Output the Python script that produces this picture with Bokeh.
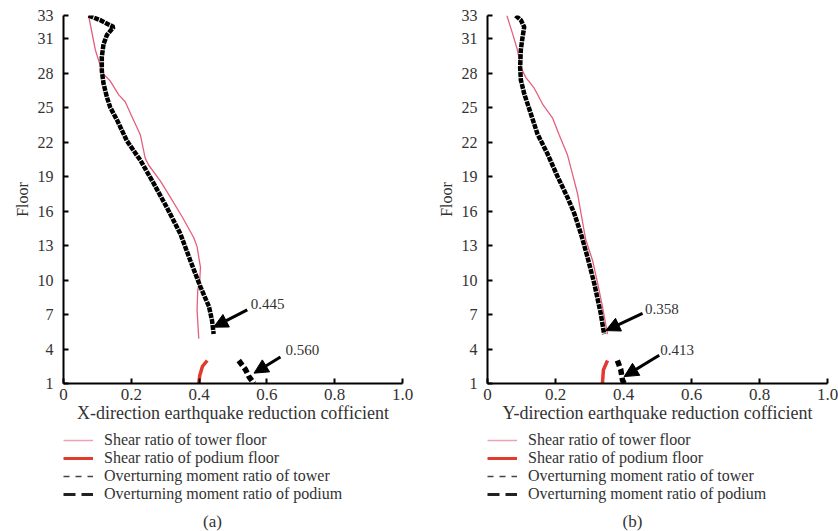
from bokeh.plotting import figure
from bokeh.models import (FixedTicker, Legend, LegendItem, Label, Arrow, NormalHead)
from bokeh.layouts import row, column
from bokeh.embed import file_html
from bokeh.resources import INLINE

FONT = "Liberation Serif"

# ---------------- data ----------------
floor_ticks = [1, 4, 7, 10, 13, 16, 19, 22, 25, 28, 31, 33]
x_ticks = [0, 0.2, 0.4, 0.6, 0.8, 1.0]
x_tick_labels = ["0", "0.2", "0.4", "0.6", "0.8", "1.0"]

legend_labels = ["Shear ratio of tower floor",
                 "Shear ratio of podium floor",
                 "Overturning moment ratio of tower",
                 "Overturning moment ratio of podium"]

# Panel (a): X direction
a_tower_shear_x = [0.074, 0.094, 0.108, 0.118, 0.138, 0.163, 0.182, 0.202, 0.227, 0.241,
                   0.251, 0.286, 0.315, 0.350, 0.384, 0.394, 0.404, 0.402, 0.396, 0.394, 0.399]
a_tower_shear_floor = [33.0, 30.0, 28.7, 27.9, 27.3, 26.1, 25.5, 24.2, 22.6, 20.6,
                       20.0, 18.6, 17.2, 15.5, 13.7, 12.9, 11.1, 10.0, 9.1, 7.4, 4.9]
a_podium_shear_x = [0.424, 0.410, 0.402, 0.399]
a_podium_shear_floor = [3.0, 2.5, 1.7, 1.0]
a_tower_moment_x = [0.074, 0.108, 0.148, 0.128, 0.118, 0.113, 0.113, 0.118, 0.128, 0.138,
                    0.158, 0.187, 0.227, 0.266, 0.305, 0.345, 0.374, 0.404, 0.429, 0.438, 0.443]
a_tower_moment_floor = [33.0, 32.6, 32.0, 31.3, 30.5, 29.4, 28.2, 27.1, 25.9, 25.0,
                        23.9, 22.1, 20.4, 18.4, 16.3, 14.0, 11.7, 9.4, 7.7, 6.5, 5.3]
a_podium_moment_x = [0.517, 0.537, 0.547, 0.562]
a_podium_moment_floor = [3.0, 2.2, 1.6, 1.0]
a_axis_label = "X-direction earthquake reduction cofficient"
a_notes = ["0.445", "0.560"]
a_note_tip_x = [0.443, 0.562]
a_note_tip_floor = [5.9, 1.9]
a_note_tail_x = [0.542, 0.640]
a_note_tail_floor = [7.4, 3.3]
a_note_text_x = [0.552, 0.655]
a_note_text_floor = [7.95, 3.9]

# Panel (b): Y direction
b_tower_shear_x = [0.057, 0.074, 0.088, 0.098, 0.113, 0.137, 0.162, 0.191, 0.211, 0.235,
                   0.250, 0.265, 0.275, 0.289, 0.309, 0.324, 0.338, 0.353]
b_tower_shear_floor = [33.0, 31.4, 30.0, 28.5, 27.6, 26.7, 25.3, 24.1, 22.6, 20.9,
                       19.2, 17.5, 15.8, 13.5, 11.7, 9.7, 7.7, 5.3]
b_podium_shear_x = [0.353, 0.341, 0.338]
b_podium_shear_floor = [3.0, 2.2, 1.0]
b_tower_moment_x = [0.083, 0.098, 0.108, 0.103, 0.098, 0.096, 0.098, 0.108, 0.127, 0.147,
                    0.176, 0.206, 0.235, 0.255, 0.275, 0.294, 0.314, 0.333, 0.343]
b_tower_moment_floor = [33.0, 32.6, 32.0, 31.1, 30.0, 28.5, 27.4, 26.2, 24.5, 22.7,
                        21.0, 19.0, 17.2, 15.8, 14.0, 12.0, 9.7, 7.1, 5.3]
b_podium_moment_x = [0.382, 0.392, 0.397, 0.402]
b_podium_moment_floor = [3.0, 2.2, 1.3, 1.0]
b_axis_label = "Y-direction earthquake reduction cofficient"
b_notes = ["0.358", "0.413"]
b_note_tip_x = [0.348, 0.402]
b_note_tip_floor = [5.6, 1.6]
b_note_tail_x = [0.456, 0.505]
b_note_tail_floor = [7.1, 3.46]
b_note_text_x = [0.463, 0.508]
b_note_text_floor = [7.5, 3.9]

PINK = "#e4607c"
PINK_LEG = "#eaa3b3"
RED = "#e23a2c"
BLACK = "#000000"
TXT = "#333333"

W = 419
H_PLOT = 429
H_LEG = 102
ROW_H = 22
# distance (px) of each legend row's bottom edge above the bottom of the page
ROW_BOTTOMS = [80, 62, 44, 26]


def make_panel(axis_label, ts_x, ts_f, ps_x, ps_f, tm_x, tm_f, pm_x, pm_f,
               notes, tip_x, tip_f, tail_x, tail_f, text_x, text_f, ml, mr):
    p = figure(width=W, height=H_PLOT, x_range=(0, 1), y_range=(1, 33),
               output_backend="svg", toolbar_location=None,
               min_border_left=ml, min_border_right=mr,
               min_border_top=15, min_border_bottom=H_PLOT - 15 - 368)
    p.outline_line_color = None
    p.grid.visible = False

    p.xaxis.ticker = FixedTicker(ticks=x_ticks)
    p.xaxis.major_label_overrides = {t: l for t, l in zip(x_ticks, x_tick_labels)}
    p.yaxis.ticker = FixedTicker(ticks=floor_ticks)
    p.xaxis.axis_label = axis_label
    p.yaxis.axis_label = "Floor"
    for ax in (p.xaxis[0], p.yaxis[0]):
        ax.axis_line_width = 2
        ax.axis_line_color = "black"
        ax.major_tick_in = 5
        ax.major_tick_out = 0
        ax.major_tick_line_width = 2
        ax.major_tick_line_color = "black"
        ax.minor_tick_line_color = None
        ax.major_label_text_font = FONT
        ax.major_label_text_font_size = "16px"
        ax.major_label_text_color = TXT
        ax.axis_label_text_font = FONT
        ax.axis_label_text_font_style = "normal"
        ax.axis_label_text_color = TXT
    p.xaxis.major_label_text_font_size = "17px"
    p.xaxis.major_label_standoff = 5
    p.xaxis.axis_label_standoff = 0
    p.xaxis.axis_label_text_font_size = "18px"
    p.yaxis.major_label_standoff = 10
    p.yaxis.axis_label_standoff = 4
    p.yaxis.axis_label_text_font_size = "16px"

    p.line(ts_x, ts_f, line_color=PINK, line_width=1.3)
    p.line(ps_x, ps_f, line_color=RED, line_width=3.5)
    p.line(tm_x, tm_f, line_color=BLACK, line_width=4.5, line_dash="5 1")
    p.line(pm_x, pm_f, line_color=BLACK, line_width=5.5, line_dash="6 3")

    for i, t in enumerate(notes):
        p.add_layout(Arrow(x_start=tail_x[i], y_start=tail_f[i], x_end=tip_x[i], y_end=tip_f[i],
                           line_color="black", line_width=3,
                           end=NormalHead(size=14, fill_color="black", line_color="black")))
        p.add_layout(Label(x=text_x[i], y=text_f[i], text=t, text_baseline="middle",
                           text_font=FONT, text_font_size="15px", text_color=TXT))
    return p


def make_legend(tag, tag_sx, ts_x, ts_f, ps_x, ps_f, tm_x, tm_f, pm_x, pm_f):
    q = figure(width=W, height=H_LEG, x_range=(0, 1), y_range=(1, 33),
               output_backend="svg", toolbar_location=None,
               x_axis_location=None, y_axis_location=None, min_border=0)
    q.outline_line_color = None
    q.grid.visible = False
    # hidden copies of the series, styled as in the printed legend
    r1 = q.line(ts_x, ts_f, line_color=PINK_LEG, line_width=1.5, visible=False)
    r2 = q.line(ps_x, ps_f, line_color=RED, line_width=3, visible=False)
    r3 = q.line(tm_x, tm_f, line_color="#444444", line_width=1.5, line_dash="6 6", visible=False)
    r4 = q.line(pm_x, pm_f, line_color="#222222", line_width=3, line_dash="12 6", visible=False)
    for lab, r, vb in zip(legend_labels, [r1, r2, r3, r4], ROW_BOTTOMS):
        leg = Legend(items=[LegendItem(label=lab, renderers=[r])], location=(0, vb),
                     orientation="vertical", padding=0, margin=0, spacing=0,
                     glyph_width=30, glyph_height=ROW_H, label_height=ROW_H,
                     label_standoff=11, label_text_font=FONT,
                     label_text_font_size="16px", label_text_color=TXT,
                     border_line_color=None, background_fill_alpha=0,
                     inactive_fill_alpha=0)
        q.add_layout(leg)
    q.add_layout(Label(x=tag_sx, y=10, x_units="screen", y_units="screen", text=tag,
                       text_align="center", text_baseline="middle", text_font=FONT,
                       text_font_size="17px", text_color=TXT))
    return q


pa = make_panel(a_axis_label,
                a_tower_shear_x, a_tower_shear_floor, a_podium_shear_x, a_podium_shear_floor,
                a_tower_moment_x, a_tower_moment_floor, a_podium_moment_x, a_podium_moment_floor,
                a_notes, a_note_tip_x, a_note_tip_floor, a_note_tail_x, a_note_tail_floor,
                a_note_text_x, a_note_text_floor, ml=63, mr=17)
la = make_legend("(a)", 149,
                 a_tower_shear_x, a_tower_shear_floor, a_podium_shear_x, a_podium_shear_floor,
                 a_tower_moment_x, a_tower_moment_floor, a_podium_moment_x, a_podium_moment_floor)
pb = make_panel(b_axis_label,
                b_tower_shear_x, b_tower_shear_floor, b_podium_shear_x, b_podium_shear_floor,
                b_tower_moment_x, b_tower_moment_floor, b_podium_moment_x, b_podium_moment_floor,
                b_notes, b_note_tip_x, b_note_tip_floor, b_note_tail_x, b_note_tail_floor,
                b_note_text_x, b_note_text_floor, ml=68, mr=11)
lb = make_legend("(b)", 145,
                 b_tower_shear_x, b_tower_shear_floor, b_podium_shear_x, b_podium_shear_floor,
                 b_tower_moment_x, b_tower_moment_floor, b_podium_moment_x, b_podium_moment_floor)

layout = row(column(pa, la), column(pb, lb))
open("out.html", "w").write(file_html(layout, INLINE))
